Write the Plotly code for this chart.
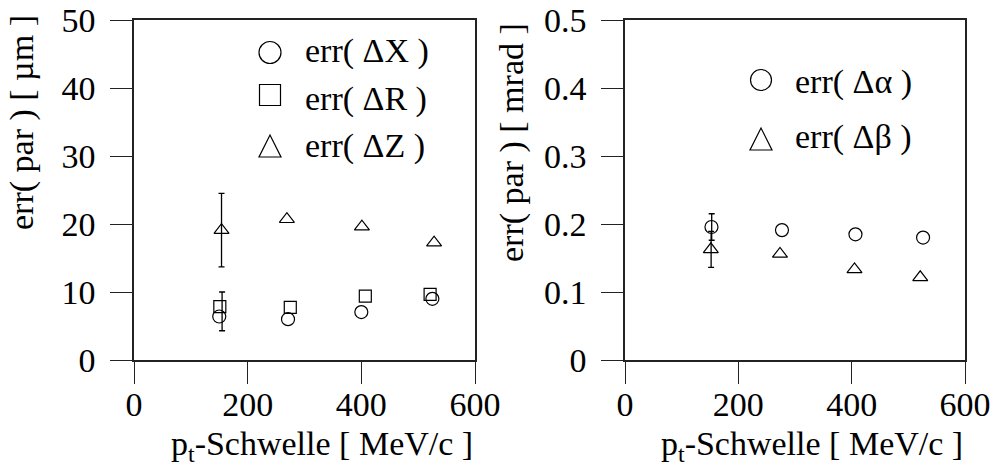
import plotly.graph_objects as go

# ---------------- data ----------------
pt_X = [150, 271, 400, 525]
err_dX = [6.4, 6.0, 7.05, 9.0]
pt_R = [151, 275, 407, 521]
err_dR = [7.85, 7.75, 9.4, 9.65]
pt_Z = [154, 269, 401, 528]
err_dZ = [19.1, 20.7, 19.6, 17.25]

pt_a = [152.6, 277, 406.7, 526]
err_da = [0.1956, 0.191, 0.1848, 0.180]
pt_b = [151.5, 273.5, 405, 521]
err_db = [0.1628, 0.156, 0.1333, 0.1216]

# error bars (only at the lowest threshold)
ebar_Z_x, ebar_Z_y, ebar_Z_err = [154], [19.1], [5.4]
ebar_XR_x, ebar_XR_y, ebar_XR_err = [155], [7.15], [2.85]
ebar_a_x, ebar_a_y, ebar_a_err = [153], [0.1956], [0.0195]
ebar_b_x, ebar_b_y, ebar_b_err = [152], [0.1628], [0.0265]

x_ticks = [0, 200, 400, 600]
yL_ticks = [0, 10, 20, 30, 40, 50]
yR_ticks = [0, 0.1, 0.2, 0.3, 0.4, 0.5]
yR_ticklabels = ["0", "0.1", "0.2", "0.3", "0.4", "0.5"]

legend_left = ["err( ΔX )", "err( ΔR )", "err( ΔZ )"]
legend_right = ["err( Δα )", "err( Δβ )"]

# ---------------- layout helpers ----------------
W, H = 994, 471
FONT = "Liberation Serif, Times New Roman, serif"
FS = 34


def px(x):
    return x / W


def py(y):
    return 1 - y / H


fig = go.Figure()

eb = dict(type="data", color="black", thickness=1.3, width=3)
mline = dict(width=1.2)


def pts(x, y, symbol, size, xa, ya):
    return go.Scatter(x=x, y=y, mode="markers", xaxis=xa, yaxis=ya,
                      marker=dict(symbol=symbol, size=size, color="black", line=mline))


def ebar(x, y, e, xa, ya):
    return go.Scatter(x=x, y=y, mode="markers", xaxis=xa, yaxis=ya,
                      marker=dict(size=1, color="rgba(0,0,0,0)"),
                      error_y=dict(array=e, **eb))


# left panel
fig.add_trace(pts(pt_X, err_dX, "circle-open", 13, "x", "y"))
fig.add_trace(pts(pt_R, err_dR, "square-open", 12, "x", "y"))
fig.add_trace(pts(pt_Z, err_dZ, "triangle-up-open", 13, "x", "y"))
fig.add_trace(ebar(ebar_Z_x, ebar_Z_y, ebar_Z_err, "x", "y"))
fig.add_trace(ebar(ebar_XR_x, ebar_XR_y, ebar_XR_err, "x", "y"))

# right panel
fig.add_trace(pts(pt_a, err_da, "circle-open", 13, "x2", "y2"))
fig.add_trace(pts(pt_b, err_db, "triangle-up-open", 13, "x2", "y2"))
fig.add_trace(ebar(ebar_a_x, ebar_a_y, ebar_a_err, "x2", "y2"))
fig.add_trace(ebar(ebar_b_x, ebar_b_y, ebar_b_err, "x2", "y2"))

ax_common = dict(showline=True, linecolor="#222", linewidth=1.5, mirror=True,
                 ticks="outside", ticklen=22, tickwidth=1, tickcolor="#222",
                 showgrid=False, zeroline=False, automargin=False,
                 tickfont=dict(family=FONT, size=FS, color="black"))

yd = [py(360), py(20)]
fig.update_layout(
    width=W, height=H, autosize=False,
    margin=dict(l=0, r=0, t=0, b=0, pad=0),
    paper_bgcolor="white", plot_bgcolor="white",
    showlegend=False,
    xaxis=dict(domain=[px(134), px(475)], range=[0, 600], tickvals=x_ticks,
               ticklabelstandoff=-9, anchor="y", **ax_common),
    yaxis=dict(domain=yd, range=[0, 50], tickvals=yL_ticks,
               ticklabelstandoff=8, anchor="x", **ax_common),
    xaxis2=dict(domain=[px(625), px(965)], range=[0, 600], tickvals=x_ticks,
                ticklabelstandoff=-9, anchor="y2", **ax_common),
    yaxis2=dict(domain=yd, range=[0, 0.5], tickvals=yR_ticks, ticktext=yR_ticklabels,
                ticklabelstandoff=8, anchor="x2", **ax_common),
)

ann = []
# axis titles
xt = "p<sub>t</sub>-Schwelle [ MeV/c ]"
ann.append(dict(x=px(322), y=py(446), text=xt))
ann.append(dict(x=px(812), y=py(446), text=xt))
ann.append(dict(x=px(22), y=py(123), text="err( par ) [ µm ]", textangle=-90))
ann.append(dict(x=px(512), y=py(143), text="err( par ) [ mrad ]", textangle=-90))
# legend texts
for txt, yy in zip(legend_left, [51, 99, 146]):
    ann.append(dict(x=px(303), y=py(yy), text=txt, xanchor="left"))
for txt, yy in zip(legend_right, [82, 137]):
    ann.append(dict(x=px(793), y=py(yy), text=txt, xanchor="left"))

for a in ann:
    a.setdefault("xanchor", "center")
    a.update(xref="paper", yref="paper", yanchor="middle", showarrow=False,
             font=dict(family=FONT, size=FS, color="black"))
fig.update_layout(annotations=ann)

# legend symbols
shapes = []
lw = dict(color="black", width=1.2)


def circle(cx, cy, r):
    return dict(type="circle", xref="paper", yref="paper",
                x0=px(cx - r), x1=px(cx + r), y0=py(cy + r), y1=py(cy - r), line=lw)


def square(cx, cy, h):
    return dict(type="rect", xref="paper", yref="paper",
                x0=px(cx - h), x1=px(cx + h), y0=py(cy + h), y1=py(cy - h), line=lw)


def triangle(cx, cy, h):
    p = f"M {px(cx - h)},{py(cy + h)} L {px(cx + h)},{py(cy + h)} L {px(cx)},{py(cy - h)} Z"
    return dict(type="path", xref="paper", yref="paper", path=p, line=lw)


shapes += [circle(270, 52.5, 11), square(270, 95, 10.5), triangle(270, 146, 11)]
shapes += [circle(761, 80, 10.5), triangle(761, 139, 11)]
fig.update_layout(shapes=shapes)

fig.write_html("out.html", config={"displayModeBar": False},
               post_script="document.body.style.margin='0px';document.body.style.overflow='hidden';")
